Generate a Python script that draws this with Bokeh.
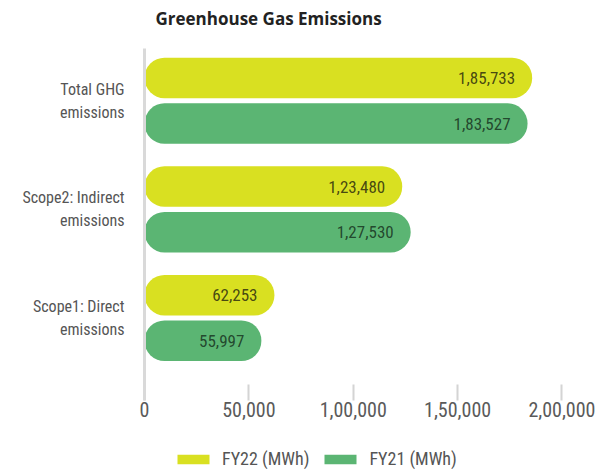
from bokeh.plotting import figure
from bokeh.layouts import column
from bokeh.models import ColumnDataSource, Range1d, FixedTicker, Legend, LegendItem, Label
from bokeh.core.properties import value
from bokeh.embed import file_html
from bokeh.resources import INLINE

# ---- data ----
categories = ["Total GHG\nemissions", "Scope2: Indirect\nemissions", "Scope1: Direct\nemissions"]
fy22 = [185733, 123480, 62253]
fy21 = [183527, 127530, 55997]
series_names = ["FY22 (MWh)", "FY21 (MWh)"]
x_ticks = [0, 50000, 100000, 150000, 200000]
title_text = "Greenhouse Gas Emissions"

C22 = "#d9e021"
C21 = "#5bb573"
FONT = "Roboto Condensed, DejaVu Sans Condensed, Roboto"


def inr(n):
    s = str(int(n))
    if len(s) <= 3:
        return s
    last3, rest = s[-3:], s[:-3]
    parts = []
    while len(rest) > 2:
        parts.insert(0, rest[-2:])
        rest = rest[:-2]
    if rest:
        parts.insert(0, rest)
    return ",".join(parts + [last3])


def strip(h):
    f = figure(width=615, height=h, output_backend="svg", toolbar_location=None,
               x_range=Range1d(0, 1), y_range=Range1d(0, 1),
               min_border=0, min_border_left=0, min_border_right=0,
               min_border_top=0, min_border_bottom=0)
    f.axis.visible = False
    f.grid.visible = False
    f.outline_line_color = None
    return f


n = len(categories)
ypos = [n - 1 - i for i in range(n)]  # top to bottom
off = 0.21
hgt = 0.373

src22 = ColumnDataSource(dict(y=[y + off for y in ypos], v=fy22, lbl=[inr(v) for v in fy22]))
src21 = ColumnDataSource(dict(y=[y - off for y in ypos], v=fy21, lbl=[inr(v) for v in fy21]))

# ---- title strip ----
tf = strip(48)
tf.add_layout(Label(x=11, y=30, x_units="screen", y_units="screen", text=title_text,
                    text_baseline="middle", text_align="left", text_font="Open Sans",
                    text_font_style="bold", text_font_size="17px", text_color="#222222"))

# ---- main chart ----
p = figure(width=615, height=398, output_backend="svg", toolbar_location=None,
           x_range=Range1d(0, 218000), y_range=Range1d(-0.76, n - 1 + 0.481),
           min_border_left=144, min_border_right=16, min_border_top=0, min_border_bottom=46)
p.outline_line_color = None
p.grid.grid_line_color = None
p.background_fill_color = "white"

r22 = p.hbar(y="y", right="v", left=0, height=hgt, source=src22, fill_color=C22,
             line_color=None, border_radius=20)
r21 = p.hbar(y="y", right="v", left=0, height=hgt, source=src21, fill_color=C21,
             line_color=None, border_radius=20)

for src, col in ((src22, "#35350f"), (src21, "#1c3a25")):
    p.text(x="v", y="y", text="lbl", source=src, x_offset=-17, text_align="right",
           text_baseline="middle", text_font=value(FONT), text_font_size="17px",
           text_color=col, text_alpha=0.9)

# x axis
xa = p.xaxis[0]
xa.ticker = FixedTicker(ticks=x_ticks)
xa.major_label_overrides = {t: inr(t) for t in x_ticks}
xa.axis_line_color = None
xa.major_tick_in = 16
xa.major_tick_out = 0
xa.major_tick_line_color = "#d4d4d4"
xa.major_tick_line_width = 2
xa.minor_tick_line_color = None
xa.major_label_text_font = FONT
xa.major_label_text_font_size = "20px"
xa.major_label_text_color = "#5a5a5a"
xa.major_label_standoff = 1

# y axis
ya = p.yaxis[0]
ya.ticker = FixedTicker(ticks=ypos)
ya.major_label_overrides = {y: c for y, c in zip(ypos, categories)}
ya.axis_line_color = "#d9d9d9"
ya.axis_line_width = 3
ya.major_tick_line_color = None
ya.minor_tick_line_color = None
ya.major_label_text_font = FONT
ya.major_label_text_font_size = "16px"
ya.major_label_text_color = "#555555"
ya.major_label_text_align = "right"
ya.major_label_standoff = 14

# ---- legend strip ----
lg = strip(23)
key_src = ColumnDataSource(dict(y=[-5], right=[0]))  # keys only; outside the visible range
e22 = lg.hbar(y="y", right="right", left=0, height=0.5, source=key_src,
              fill_color=C22, line_color=None)
e21 = lg.hbar(y="y", right="right", left=0, height=0.5, source=key_src,
              fill_color=C21, line_color=None)
legend = Legend(items=[LegendItem(label=series_names[0], renderers=[e22]),
                       LegendItem(label=series_names[1], renderers=[e21])],
                orientation="horizontal", location=(29, 0),
                glyph_width=40, glyph_height=12, label_height=14,
                label_standoff=9, spacing=11, padding=0, margin=0,
                border_line_color=None, background_fill_alpha=0,
                label_text_font=FONT, label_text_font_size="18px",
                label_text_color="#555555")
lg.add_layout(legend, "center")

layout = column(tf, p, lg, spacing=0)
open("out.html", "w").write(file_html(layout, INLINE))
